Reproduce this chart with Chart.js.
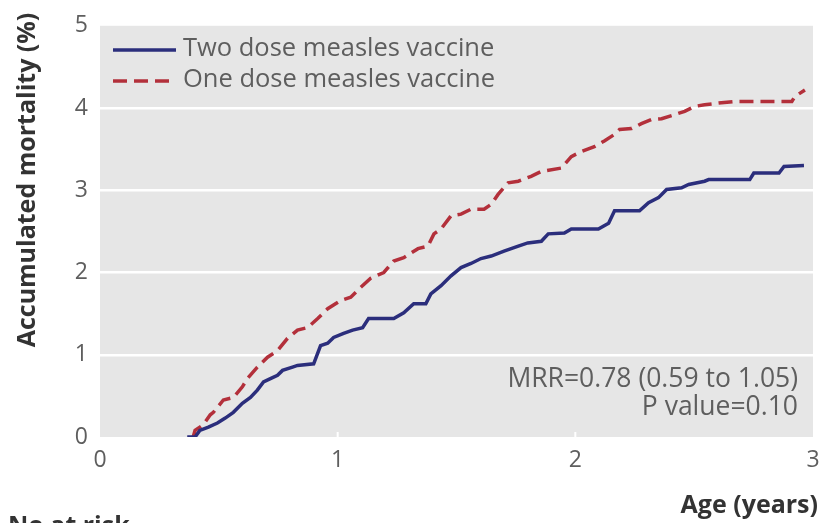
<!DOCTYPE html>
<html>
<head>
<meta charset="utf-8">
<script src="https://cdn.jsdelivr.net/npm/chart.js@4/dist/chart.umd.min.js"></script>
<style>
  html, body { margin: 0; padding: 0; background: #ffffff; }
  #wrap { width: 822px; height: 523px; }
</style>
</head>
<body>
<div id="wrap"><canvas id="chart" width="822" height="523"></canvas></div>
<script>
// Cumulative mortality by age, two-dose vs one-dose measles vaccine
const ageTwoDose = [0.367, 0.40, 0.42, 0.456, 0.494, 0.527, 0.561, 0.599, 0.633, 0.662, 0.688, 0.717, 0.747, 0.768, 0.81, 0.831, 0.899, 0.928, 0.958, 0.983, 1.025, 1.063, 1.105, 1.13, 1.236, 1.278, 1.32, 1.371, 1.392, 1.435, 1.477, 1.519, 1.561, 1.603, 1.646, 1.70, 1.76, 1.80, 1.857, 1.886, 1.954, 1.983, 2.097, 2.14, 2.165, 2.27, 2.308, 2.35, 2.384, 2.447, 2.477, 2.544, 2.561, 2.734, 2.751, 2.857, 2.878, 2.962];
const mortTwoDose = [0.0, 0.0, 0.08, 0.12, 0.17, 0.23, 0.30, 0.41, 0.48, 0.57, 0.67, 0.71, 0.75, 0.81, 0.85, 0.87, 0.89, 1.11, 1.14, 1.21, 1.26, 1.30, 1.33, 1.44, 1.44, 1.51, 1.62, 1.62, 1.74, 1.84, 1.96, 2.06, 2.11, 2.17, 2.20, 2.26, 2.32, 2.36, 2.38, 2.47, 2.48, 2.53, 2.53, 2.60, 2.75, 2.75, 2.85, 2.91, 3.01, 3.03, 3.07, 3.11, 3.13, 3.13, 3.21, 3.21, 3.29, 3.30];

const ageOneDose = [0.392, 0.40, 0.435, 0.464, 0.477, 0.519, 0.561, 0.599, 0.62, 0.662, 0.705, 0.747, 0.789, 0.831, 0.873, 0.916, 0.958, 1.013, 1.055, 1.097, 1.139, 1.194, 1.236, 1.278, 1.338, 1.38, 1.405, 1.435, 1.477, 1.519, 1.561, 1.616, 1.646, 1.675, 1.717, 1.76, 1.814, 1.857, 1.941, 1.983, 2.025, 2.08, 2.122, 2.165, 2.186, 2.236, 2.278, 2.321, 2.363, 2.418, 2.46, 2.502, 2.544, 2.603, 2.671, 2.911, 2.924, 2.966];
const mortOneDose = [0.0, 0.08, 0.15, 0.27, 0.30, 0.45, 0.48, 0.61, 0.71, 0.85, 0.97, 1.05, 1.20, 1.30, 1.33, 1.44, 1.56, 1.66, 1.70, 1.82, 1.93, 2.00, 2.14, 2.18, 2.29, 2.32, 2.47, 2.53, 2.69, 2.71, 2.77, 2.77, 2.83, 2.95, 3.09, 3.11, 3.17, 3.23, 3.27, 3.41, 3.47, 3.53, 3.60, 3.68, 3.74, 3.75, 3.81, 3.86, 3.87, 3.92, 3.96, 4.02, 4.04, 4.06, 4.08, 4.08, 4.14, 4.22];

const xTickValues = [0, 1, 2, 3];
const yTickValues = [0, 1, 2, 3, 4, 5];
const seriesNames = ['Two dose measles vaccine', 'One dose measles vaccine'];
const statLines = ['MRR=0.78 (0.59 to 1.05)', 'P value=0.10'];

const BLUE = '#2b2e7c';
const RED = '#b3303b';
const TEXT = '#5e5e5e';
const FONT = '"Open Sans", "Noto Sans", sans-serif';

const toPoints = (xs, ys) => xs.map((x, i) => ({ x: x, y: ys[i] }));

const decor = {
  id: 'decor',
  beforeDraw(chart) {
    const { ctx, chartArea: a } = chart;
    ctx.save();
    ctx.fillStyle = '#e6e6e6';
    ctx.fillRect(a.left, a.top, a.right - a.left, a.bottom - a.top);
    // small white tick marks along the bottom edge
    const xs = chart.scales.x;
    ctx.strokeStyle = '#ffffff';
    ctx.lineWidth = 2;
    [1, 2].forEach(v => {
      const px = xs.getPixelForValue(v);
      ctx.beginPath();
      ctx.moveTo(px, a.bottom - 5);
      ctx.lineTo(px, a.bottom);
      ctx.stroke();
    });
    ctx.restore();
  },
  afterDraw(chart) {
    const { ctx } = chart;
    ctx.save();
    // legend
    const rows = [
      { y: 50, color: BLUE, dash: [], width: 3.5 },
      { y: 81, color: RED, dash: [14, 7], width: 3.5 }
    ];
    rows.forEach((r, i) => {
      ctx.beginPath();
      ctx.setLineDash(r.dash);
      ctx.strokeStyle = r.color;
      ctx.lineWidth = r.width;
      ctx.moveTo(113, r.y);
      ctx.lineTo(176, r.y);
      ctx.stroke();
      ctx.setLineDash([]);
      ctx.fillStyle = TEXT;
      ctx.font = '25.5px ' + FONT;
      ctx.textAlign = 'left';
      ctx.textBaseline = 'middle';
      ctx.fillText(seriesNames[i], 183, r.y - 1);
    });
    // statistics note
    ctx.fillStyle = TEXT;
    ctx.font = '26.5px ' + FONT;
    ctx.textAlign = 'right';
    ctx.textBaseline = 'middle';
    ctx.fillText(statLines[0], 798, 379);
    ctx.fillText(statLines[1], 798, 407);
    // axis titles
    ctx.fillStyle = '#333333';
    ctx.font = 'bold 25px ' + FONT;
    ctx.textAlign = 'right';
    ctx.textBaseline = 'middle';
    ctx.fillText('Age (years)', 818, 506);
    ctx.textAlign = 'left';
    ctx.textBaseline = 'alphabetic';
    ctx.fillText('No at risk', 8, 534);
    ctx.translate(28, 180);
    ctx.rotate(-Math.PI / 2);
    ctx.textAlign = 'center';
    ctx.textBaseline = 'middle';
    ctx.fillText('Accumulated mortality (%)', 0, 0);
    ctx.restore();
  }
};

new Chart(document.getElementById('chart'), {
  type: 'line',
  data: {
    datasets: [
      {
        label: seriesNames[0],
        data: toPoints(ageTwoDose, mortTwoDose),
        borderColor: BLUE,
        borderWidth: 3.5,
        pointRadius: 0,
        tension: 0,
        fill: false,
        order: 0
      },
      {
        label: seriesNames[1],
        data: toPoints(ageOneDose, mortOneDose),
        borderColor: RED,
        borderWidth: 3.5,
        borderDash: [14, 7],
        pointRadius: 0,
        tension: 0,
        fill: false,
        order: 1
      }
    ]
  },
  options: {
    responsive: false,
    devicePixelRatio: 1,
    animation: false,
    layout: { padding: { left: 0, right: 9, top: 25, bottom: 0 } },
    plugins: {
      legend: { display: false },
      tooltip: { enabled: false }
    },
    scales: {
      x: {
        type: 'linear',
        min: 0,
        max: 3,
        afterBuildTicks: s => { s.ticks = xTickValues.map(v => ({ value: v })); },
        afterFit: s => { s.height = 86; },
        grid: { display: false },
        border: { display: false },
        ticks: {
          color: TEXT,
          font: { family: FONT, size: 23 },
          padding: 2,
          maxRotation: 0
        }
      },
      y: {
        type: 'linear',
        min: 0,
        max: 5,
        afterBuildTicks: s => { s.ticks = yTickValues.map(v => ({ value: v })); },
        afterFit: s => { s.width = 100; },
        grid: {
          drawTicks: false,
          lineWidth: 2.5,
          color: c => (c.tick && c.tick.value > 0 && c.tick.value < 5) ? '#ffffff' : 'rgba(0,0,0,0)'
        },
        border: { display: false },
        ticks: {
          color: TEXT,
          font: { family: FONT, size: 23 },
          padding: 12
        }
      }
    }
  },
  plugins: [decor]
});
</script>
</body>
</html>
